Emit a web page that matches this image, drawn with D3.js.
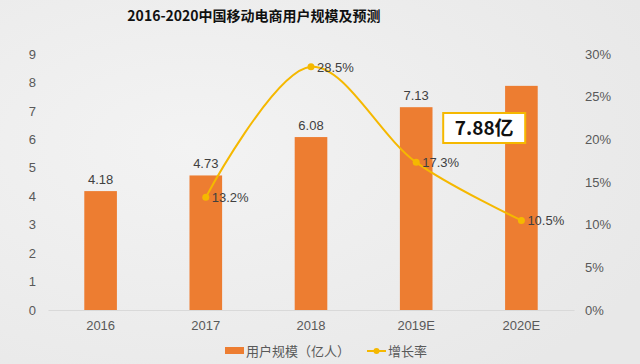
<!DOCTYPE html>
<html>
<head>
<meta charset="utf-8">
<script src="https://cdn.jsdelivr.net/npm/d3@7"></script>
<style>
  html, body { margin: 0; padding: 0; background: #eeeeee; }
  svg { display: block; font-family: "Liberation Sans", Arial, sans-serif; }
</style>
</head>
<body>
<div id="chart"></div>
<script>
// chart data
const years = ['2016', '2017', '2018', '2019E', '2020E'];
const users = [4.18, 4.73, 6.08, 7.13, 7.88];           // 用户规模（亿人）
const growth = [null, 0.132, 0.285, 0.173, 0.105];      // 增长率
const leftTicks = [0, 1, 2, 3, 4, 5, 6, 7, 8, 9];
const rightTicks = [0, 0.05, 0.10, 0.15, 0.20, 0.25, 0.30];
const barLabels = ['4.18', '4.73', '6.08', '7.13', null];
const callout = '7.88亿';

const width = 640, height = 364;
const plot = { left: 48, right: 574, top: 54, bottom: 310 };
const orange = '#ed7d31', gold = '#f5b800', textColor = '#595959';

const svg = d3.select('#chart').append('svg')
  .attr('width', width)
  .attr('height', height);

const defs = svg.append('defs');
const bg = defs.append('radialGradient').attr('id', 'bg')
  .attr('cx', '30%').attr('cy', '40%').attr('r', '80%');
bg.append('stop').attr('offset', '0%').attr('stop-color', '#f3f3f3');
bg.append('stop').attr('offset', '100%').attr('stop-color', '#e8e8e8');
svg.append('rect').attr('width', width).attr('height', height).attr('fill', 'url(#bg)');

svg.append('text')
  .attr('x', 254).attr('y', 21)
  .attr('text-anchor', 'middle')
  .style('font-family', '"Noto Sans CJK SC", sans-serif')
  .style('font-weight', 'bold')
  .style('font-size', '14px')
  .attr('fill', '#111')
  .text('2016-2020中国移动电商用户规模及预测');

const x = d3.scaleBand().domain(years).range([plot.left, plot.right]).padding(0);
const yL = d3.scaleLinear().domain([0, 9]).range([plot.bottom, plot.top]);
const yR = d3.scaleLinear().domain([0, 0.3]).range([plot.bottom, plot.top]);
const barW = x.bandwidth() * 0.31;

// left axis
const axL = svg.append('g')
  .attr('transform', `translate(${plot.left - 12},0)`)
  .call(d3.axisLeft(yL).tickValues(leftTicks).tickSize(0).tickPadding(0));
axL.select('.domain').remove();

// right axis
const axR = svg.append('g')
  .attr('transform', `translate(${plot.right + 11},0)`)
  .call(d3.axisRight(yR).tickValues(rightTicks).tickSize(0).tickPadding(0).tickFormat(d3.format('.0%')));
axR.select('.domain').remove();

// bottom axis
const axB = svg.append('g')
  .attr('transform', `translate(0,${plot.bottom})`)
  .call(d3.axisBottom(x).tickSize(0).tickPadding(11));
axB.select('.domain').attr('stroke', '#d9d9d9');

svg.selectAll('.tick text')
  .attr('fill', textColor)
  .style('font-size', '13px')
  .style('font-family', '"Liberation Sans", Arial, sans-serif');

// bars
svg.append('g').selectAll('rect')
  .data(years)
  .join('rect')
  .attr('x', (d) => x(d) + (x.bandwidth() - barW) / 2)
  .attr('y', (d, i) => yL(users[i]))
  .attr('width', barW)
  .attr('height', (d, i) => plot.bottom - yL(users[i]))
  .attr('fill', orange);

svg.append('g').selectAll('text')
  .data(years.filter((d, i) => barLabels[i]))
  .join('text')
  .attr('x', (d) => x(d) + x.bandwidth() / 2)
  .attr('y', (d) => yL(users[years.indexOf(d)]) - 7)
  .attr('text-anchor', 'middle')
  .attr('fill', '#404040')
  .style('font-size', '13px')
  .text((d) => barLabels[years.indexOf(d)]);

// growth line
const pts = years.map((d, i) => ({ year: d, v: growth[i] })).filter((p) => p.v !== null);
const line = d3.line()
  .x((p) => x(p.year) + x.bandwidth() / 2)
  .y((p) => yR(p.v))
  .curve(d3.curveCatmullRom.alpha(0.5));

svg.append('path')
  .datum(pts)
  .attr('d', line)
  .attr('fill', 'none')
  .attr('stroke', gold)
  .attr('stroke-width', 2);

svg.append('g').selectAll('circle')
  .data(pts)
  .join('circle')
  .attr('cx', (p) => x(p.year) + x.bandwidth() / 2)
  .attr('cy', (p) => yR(p.v))
  .attr('r', 3.5)
  .attr('fill', gold);

svg.append('g').selectAll('text')
  .data(pts)
  .join('text')
  .attr('x', (p) => x(p.year) + x.bandwidth() / 2 + 6)
  .attr('y', (p) => yR(p.v) + 5)
  .attr('fill', '#404040')
  .style('font-size', '13px')
  .text((p) => d3.format('.1%')(p.v));

// callout
const cx = x('2019E') + x.bandwidth() / 2 + 68;
const cy = 128;
svg.append('rect')
  .attr('x', cx - 41).attr('y', cy - 15)
  .attr('width', 82).attr('height', 30)
  .attr('fill', '#fff')
  .attr('stroke', gold)
  .attr('stroke-width', 2);
svg.append('text')
  .attr('x', cx).attr('y', cy + 7)
  .attr('text-anchor', 'middle')
  .style('font-family', '"Noto Sans CJK SC", sans-serif')
  .style('font-weight', 'bold')
  .style('font-size', '19px')
  .attr('fill', '#111')
  .text(callout);

// legend
const lg = svg.append('g').attr('transform', 'translate(225,351)');
lg.append('rect').attr('x', 0).attr('y', -4).attr('width', 19).attr('height', 7).attr('fill', orange);
lg.append('text').attr('x', 21).attr('y', 5)
  .attr('fill', textColor)
  .style('font-family', '"Noto Sans CJK SC", sans-serif')
  .style('font-size', '13px')
  .text('用户规模（亿人）');
lg.append('line').attr('x1', 142).attr('x2', 161).attr('y1', 0).attr('y2', 0)
  .attr('stroke', gold).attr('stroke-width', 2);
lg.append('circle').attr('cx', 151.5).attr('cy', 0).attr('r', 3).attr('fill', gold);
lg.append('text').attr('x', 163).attr('y', 5)
  .attr('fill', textColor)
  .style('font-family', '"Noto Sans CJK SC", sans-serif')
  .style('font-size', '13px')
  .text('增长率');
</script>
</body>
</html>
